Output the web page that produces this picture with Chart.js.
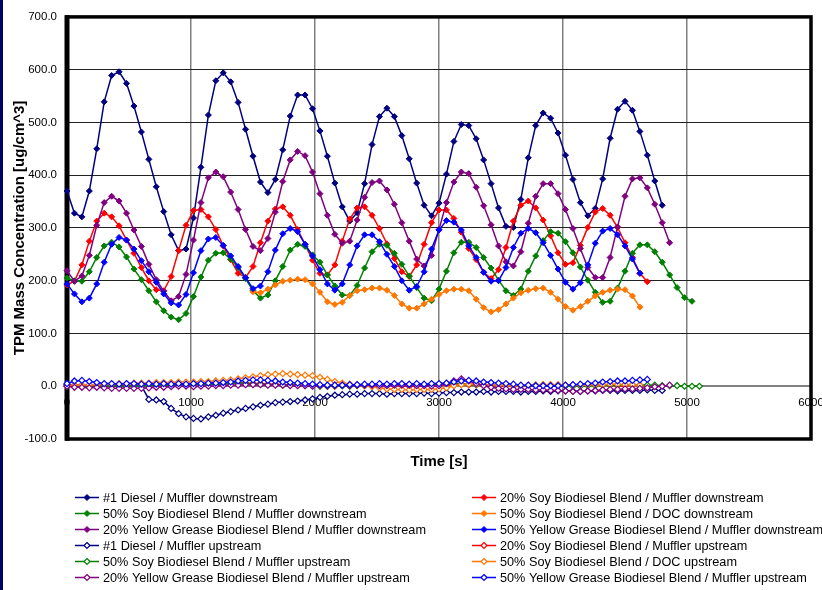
<!DOCTYPE html>
<html><head><meta charset="utf-8">
<script src="https://cdn.jsdelivr.net/npm/chart.js@4.4.0/dist/chart.umd.min.js"></script>
<style>html,body{margin:0;padding:0;background:#fff;}canvas{display:block;}</style>
</head><body><canvas id="c" width="822" height="590"></canvas>
<script>
// time stamps [s]
const times = [0,60,120,180,240,300,360,420,480,540,600,660,720,780,840,900,960,1020,1080,1140,1200,1260,1320,1380,1440,1500,1560,1620,1680,1740,1800,1860,1920,1980,2040,2100,2160,2220,2280,2340,2400,2460,2520,2580,2640,2700,2760,2820,2880,2940,3000,3060,3120,3180,3240,3300,3360,3420,3480,3540,3600,3660,3720,3780,3840,3900,3960,4020,4080,4140,4200,4260,4320,4380,4440,4500,4560,4620,4680,4740,4800,4860,4920,4980,5040,5100];
const xTicks = [0,1000,2000,3000,4000,5000,6000];
const yTicks = [-100,0,100,200,300,400,500,600,700];

const names = [
 "#1 Diesel / Muffler downstream",
 "20% Soy Biodiesel Blend / Muffler downstream",
 "50% Soy Biodiesel Blend / Muffler downstream",
 "50% Soy Biodiesel Blend / DOC downstream",
 "20% Yellow Grease Biodiesel Blend / Muffler downstream",
 "50% Yellow Grease Biodiesel Blend / Muffler downstream",
 "#1 Diesel / Muffler upstream",
 "20% Soy Biodiesel Blend / Muffler upstream",
 "50% Soy Biodiesel Blend / Muffler upstream",
 "50% Soy Biodiesel Blend / DOC upstream",
 "20% Yellow Grease Biodiesel Blend / Muffler upstream",
 "50% Yellow Grease Biodiesel Blend / Muffler upstream"
];

const dieselDown = [370,328,321,370,450,539,589,596,574,531,482,430,378,331,287,257,260,319,415,514,579,594,577,538,487,436,387,367,392,448,512,552,552,526,484,436,385,340,313,329,384,458,511,527,511,475,431,385,343,323,347,402,464,496,494,469,429,384,338,303,301,354,433,494,518,508,480,438,392,348,323,337,393,470,525,540,523,483,438,389,343];
const soy20Down = [192,199,230,275,313,328,321,304,277,252,225,200,183,181,208,257,305,333,335,321,297,266,240,214,206,227,272,313,336,340,324,297,269,239,214,211,230,275,317,338,340,324,299,270,242,217,208,230,269,310,334,334,318,292,261,240,216,204,221,263,313,343,351,338,315,285,253,231,234,267,301,330,337,324,301,272,244,214,198];
const soy50Down = [205,200,199,217,244,266,273,264,245,222,202,181,160,143,131,126,138,170,207,239,252,253,241,225,204,181,167,173,200,227,258,269,265,249,235,211,190,173,172,191,224,255,269,267,252,231,209,187,167,162,184,218,253,273,273,263,244,224,201,181,172,184,218,247,276,293,290,274,253,226,201,178,159,161,186,218,252,268,268,255,235,211,187,168,161];
const docDownStart = 25;
const docDown = [179,177,184,192,199,201,203,202,194,178,160,155,159,172,181,183,186,186,182,172,156,148,148,156,165,174,181,184,184,181,165,149,141,145,156,167,177,182,185,186,178,165,151,144,151,161,171,178,182,184,183,171,150];
const yg20Down = [219,199,209,248,305,348,360,351,328,296,265,231,202,180,162,170,212,277,348,395,406,397,368,335,297,265,257,280,330,388,429,445,437,406,365,324,288,271,275,315,358,386,389,372,345,310,275,241,228,248,297,348,387,406,403,377,342,306,266,236,228,255,309,360,384,384,365,335,299,261,225,206,206,244,302,360,393,395,376,345,310,272];
const yg50Down = [194,175,160,167,194,235,269,282,277,260,238,217,197,175,158,154,174,215,257,279,282,267,247,227,206,185,190,217,258,289,299,293,269,247,221,194,182,194,230,266,287,287,274,250,227,200,182,189,217,260,296,314,311,296,266,244,216,199,200,225,263,290,299,291,272,248,222,197,184,196,230,271,294,299,287,266,241,214];

const dieselUp = [3,2,2,2,1,1,2,1,1,1,1,-25,-26,-29,-42,-52,-58,-61,-62,-58,-55,-51,-48,-45,-42,-39,-36,-34,-31,-30,-29,-28,-26,-24,-21,-19,-17,-16,-15,-15,-14,-14,-14,-15,-14,-14,-14,-14,-13,-14,-13,-12,-12,-11,-11,-11,-10,-11,-10,-10,-10,-11,-10,-10,-9,-10,-9,-9,-9,-10,-9,-9,-8,-8,-9,-8,-8,-8,-7,-8,-8];
const soy20Up = [2,1,0,1,2,1,1,0,1,2,2,3,2,3,3,4,4,5,5,5,6,6,7,6,6,5,5,4,4,3,3,2,2,1,1,0,0,1,1,2,2,1,1,2,1,1,0,0,1,1,2,3,3,4,3,3,2,2,1,1,0,0,1,1,2,2,1,1,2,2,3,3,2,2,1,1,2,2,1];
const soy50Up = [0,1,0,-1,0,1,1,0,-1,0,0,1,1,2,1,2,2,3,3,4,4,4,5,5,5,4,4,3,3,2,2,2,1,1,0,0,1,1,0,1,1,2,2,2,3,3,2,3,3,4,4,5,5,4,4,3,3,2,2,2,1,1,1,2,2,1,1,1,0,0,1,1,2,2,2,3,3,2,2,2,1,1,1,0,0,0];
const docUp = [1,2,2,3,3,4,4,5,5,6,6,6,7,7,7,8,8,8,9,9,10,11,12,14,16,18,20,22,23,24,23,22,21,20,17,13,9,6,4,2,1,-1,-3,-5,-6,-6,-7,-6,-6,-6,-5,-3,1,3,4,4,3,3,2,2,1,1,2,2,3,3,3,2,2,2,3,3,3,4,4,3,3,2];
const yg20Up = [0,-2,-2,-3,-2,-3,-4,-4,-4,-4,-4,-3,-2,-2,-1,0,0,-1,0,0,1,1,2,2,3,3,3,2,2,2,1,1,1,0,1,1,2,2,1,2,2,2,1,1,2,2,2,1,1,0,1,5,10,14,10,5,1,-2,-4,-5,-6,-6,-6,-7,-7,-8,-8,-9,-10,-10,-9,-8,-7,-6,-6,-5,-5,-4,-3,-1,0,2];
const yg50Up = [5,10,11,9,7,5,5,4,5,5,4,5,4,5,4,5,4,5,5,6,6,7,8,10,11,12,12,11,10,8,7,6,5,4,3,2,2,2,3,3,4,4,5,4,5,5,4,5,4,5,5,6,8,10,11,10,8,7,6,5,4,2,2,1,1,1,1,2,3,4,5,6,8,9,10,10,11,12,13];

const seriesValues = [dieselDown, soy20Down, soy50Down, docDown, yg20Down, yg50Down, dieselUp, soy20Up, soy50Up, docUp, yg20Up, yg50Up];
const seriesStart = [0,0,0,docDownStart,0,0,0,0,0,0,0,0];
const colors = ['#000080','#FF0000','#008000','#FF7700','#800080','#0000FF','#000080','#FF0000','#008000','#FF7700','#800080','#0000FF'];

const datasets = seriesValues.map((vals, i) => {
  const hollow = i >= 6;
  return {
    label: names[i],
    data: vals.map((v, k) => ({x: times[seriesStart[i] + k], y: v})),
    borderColor: colors[i],
    backgroundColor: colors[i],
    borderWidth: 1.5,
    pointStyle: 'rectRot',
    pointRadius: 3,
    pointBorderWidth: hollow ? 1.2 : 1,
    pointBorderColor: colors[i],
    pointBackgroundColor: hollow ? '#FFFFFF' : colors[i],
    fill: false,
    tension: 0,
    clip: false,
    order: -i
  };
});

function diamond(ctx, x, y, r) {
  ctx.beginPath();
  ctx.moveTo(x, y - r); ctx.lineTo(x + r, y); ctx.lineTo(x, y + r); ctx.lineTo(x - r, y); ctx.closePath();
}

const framePlugin = {
  id: 'frame',
  beforeDatasetsDraw(chart) {
    const {ctx, chartArea: a} = chart;
    ctx.save();
    ctx.strokeStyle = '#000';
    ctx.lineWidth = 3.5;
    ctx.strokeRect(a.left, a.top, a.right - a.left, a.bottom - a.top);
    ctx.fillStyle = '#000';
    ctx.fillRect(a.left - 2.5, a.top - 1.75, 5, a.bottom - a.top + 3.5);
    ctx.restore();
  },
  afterDraw(chart) {
    const ctx = chart.ctx;
    ctx.save();
    ctx.fillStyle = '#000066';
    ctx.fillRect(0, 0, 3, 590);
    ctx.fillStyle = '#000';
    ctx.font = "bold 15px 'Liberation Sans', Arial, sans-serif";
    ctx.textAlign = 'center';
    ctx.textBaseline = 'middle';
    ctx.fillText('Time [s]', 439, 462);
    const colX = [75, 472];
    ctx.font = "12.7px 'Liberation Sans', Arial, sans-serif";
    ctx.textAlign = 'left';
    chart.data.datasets.forEach((ds, i) => {
      const x0 = colX[i % 2];
      const y = 497.5 + Math.floor(i / 2) * 16;
      ctx.strokeStyle = ds.borderColor;
      ctx.lineWidth = 1.5;
      ctx.beginPath(); ctx.moveTo(x0, y); ctx.lineTo(x0 + 24, y); ctx.stroke();
      diamond(ctx, x0 + 12, y, 3);
      ctx.fillStyle = ds.pointBackgroundColor;
      ctx.fill();
      ctx.lineWidth = ds.pointBorderWidth;
      ctx.strokeStyle = ds.pointBorderColor;
      ctx.stroke();
      ctx.fillStyle = '#000';
      ctx.fillText(ds.label, x0 + 28, y + 0.5);
    });
    ctx.restore();
  }
};

Chart.defaults.font.family = "'Liberation Sans', Arial, sans-serif";

new Chart(document.getElementById('c'), {
  type: 'line',
  data: {datasets},
  options: {
    responsive: false,
    animation: false,
    devicePixelRatio: 1,
    layout: {padding: {left: 0, top: 15, right: 11, bottom: 151}},
    plugins: {legend: {display: false}, tooltip: {enabled: false}, title: {display: false}},
    scales: {
      x: {
        type: 'linear',
        position: {y: 0},
        min: 0, max: 6000,
        afterBuildTicks(s) { s.ticks = xTicks.map(v => ({value: v})); },
        ticks: {padding: 10, color: '#000', font: {size: 11.5}, maxRotation: 0, autoSkip: false, callback: v => String(v)},
        grid: {color: '#808080', lineWidth: 1.5, drawTicks: false},
        border: {display: true, color: '#808080', width: 1.5},
        afterFit(s) { s.paddingLeft = 0; s.paddingRight = 0; }
      },
      y: {
        type: 'linear',
        min: -100, max: 700,
        afterBuildTicks(s) { s.ticks = yTicks.map(v => ({value: v})); },
        ticks: {padding: 10, color: '#000', font: {size: 11.5}, callback: v => Number(v).toFixed(1)},
        grid: {color: c => (c.tick && c.tick.value === 0) ? '#808080' : '#222', lineWidth: 1, drawTicks: false},
        border: {display: false},
        title: {display: true, text: 'TPM Mass Concentration [ug/cm^3]', color: '#000', font: {size: 15, weight: 'bold'}, padding: {top: 11, bottom: 0}},
        afterFit(s) { s.width = 67; }
      }
    }
  },
  plugins: [framePlugin]
});
</script>
</body></html>
